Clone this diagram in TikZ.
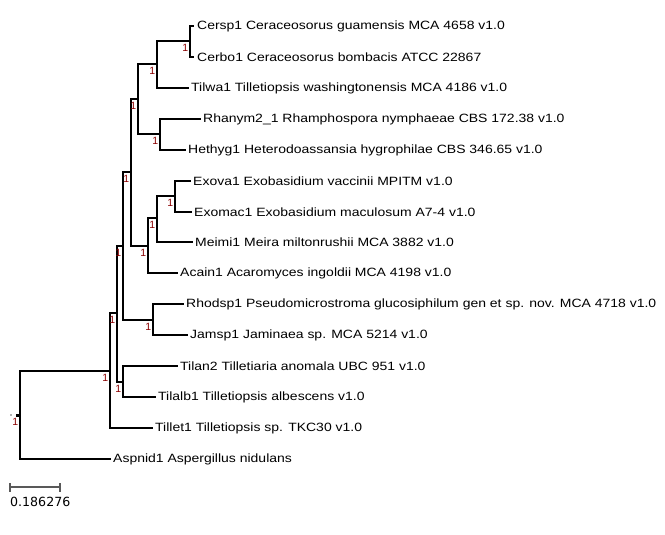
\documentclass[tikz,border=0pt]{standalone}
\usepackage{fontspec}
\setmainfont{Liberation Sans}
\newfontfamily\leaffont[FakeStretch=1.165]{Liberation Sans}
\newfontfamily\scalefont{DejaVu Sans}
\definecolor{bootred}{HTML}{8B0000}
\begin{document}
\begin{tikzpicture}[x=1pt,y=-1pt,
  br/.style={line width=1.5pt,black,line cap=rect},
  bold/.style={line width=2.6pt,black,line cap=rect},
  leaf/.style={anchor=west,inner sep=0pt,font=\leaffont\fontsize{12}{14}\selectfont},
  boot/.style={anchor=north east,inner sep=0pt,text=bootred,font=\fontsize{10.5}{11}\selectfont}]
\useasboundingbox (0,0) rectangle (665,535);
\fill[white] (0,0) rectangle (665,535);
% internal nodes
\coordinate (R) at (20,415);
\coordinate (L) at (110,371);
\coordinate (J) at (117,313);
\coordinate (K) at (123,382);
\coordinate (I) at (123,246);
\coordinate (H) at (153,320);
\coordinate (D) at (131,172);
\coordinate (E) at (148,246);
\coordinate (F) at (157,218);
\coordinate (G) at (175,196);
\coordinate (C) at (138,99);
\coordinate (B) at (160,134);
\coordinate (A) at (157,64);
\coordinate (Ce) at (190,41);
% leaves
\node[leaf] (cersp) at (197,26) {Cersp1 Ceraceosorus guamensis MCA 4658 v1.0};
\node[leaf] (cerbo) at (197,57) {Cerbo1 Ceraceosorus bombacis ATCC 22867};
\node[leaf] (tilwa) at (191,88) {Tilwa1 Tilletiopsis washingtonensis MCA 4186 v1.0};
\node[leaf] (rhany) at (203,119) {Rhanym2\_1 Rhamphospora nymphaeae CBS 172.38 v1.0};
\node[leaf] (hethy) at (188,150) {Hethyg1 Heterodoassansia hygrophilae CBS 346.65 v1.0};
\node[leaf] (exova) at (193,181) {Exova1 Exobasidium vaccinii MPITM v1.0};
\node[leaf] (exoma) at (194,212) {Exomac1 Exobasidium maculosum A7-4 v1.0};
\node[leaf] (meimi) at (195,242) {Meimi1 Meira miltonrushii MCA 3882 v1.0};
\node[leaf] (acain) at (180,273) {Acain1 Acaromyces ingoldii MCA 4198 v1.0};
\node[leaf] (rhods) at (186,304) {Rhodsp1 Pseudomicrostroma glucosiphilum gen et sp. nov. MCA 4718 v1.0};
\node[leaf] (jamsp) at (190,335) {Jamsp1 Jaminaea sp. MCA 5214 v1.0};
\node[leaf] (tilan) at (180,366) {Tilan2 Tilletiaria anomala UBC 951 v1.0};
\node[leaf] (tilal) at (158,397) {Tilalb1 Tilletiopsis albescens v1.0};
\node[leaf] (tille) at (155,428) {Tillet1 Tilletiopsis sp. TKC30 v1.0};
\node[leaf] (aspni) at (113,459) {Aspnid1 Aspergillus nidulans};
% branches
\draw[br] (R) |- (L);
\draw[br] (R) |- ([xshift=-3pt]aspni.west);
\draw[br] (L) |- (J);
\draw[br] (L) |- ([xshift=-3pt]tille.west);
\draw[br] (J) |- (I);
\draw[bold] (J) |- (K);
\draw[br] (K) |- ([xshift=-3pt]tilan.west);
\draw[br] (K) |- ([xshift=-3pt]tilal.west);
\draw[br] (I) |- (D);
\draw[bold] (I) |- (H);
\draw[br] (H) |- ([xshift=-3pt]rhods.west);
\draw[br] (H) |- ([xshift=-3pt]jamsp.west);
\draw[br] (D) |- (C);
\draw[bold] (D) |- (E);
\draw[br] (E) |- (F);
\draw[br] (E) |- ([xshift=-3pt]acain.west);
\draw[bold] (F) |- (G);
\draw[br] (F) |- ([xshift=-3pt]meimi.west);
\draw[br] (G) |- ([xshift=-3pt]exova.west);
\draw[br] (G) |- ([xshift=-3pt]exoma.west);
\draw[br] (C) |- (A);
\draw[bold] (C) |- (B);
\draw[br] (B) |- ([xshift=-3pt]rhany.west);
\draw[br] (B) |- ([xshift=-3pt]hethy.west);
\draw[bold] (A) |- (Ce);
\draw[br] (A) |- ([xshift=-3pt]tilwa.west);
\draw[bold] (Ce) |- ([xshift=-4pt]cersp.west);
\draw[bold] (Ce) |- ([xshift=-4pt]cerbo.west);
% support values
\foreach \n in {R,L,J,K,I,H,D,E,F,G,C,B,A,Ce}
  \node[boot] (b\n) at ([shift={(-1.5,3)}]\n) {1};
% root marker
\fill[black] ([shift={(-4.5,-1.5)}]R) rectangle ([shift={(-1.5,1.5)}]R);
\fill[gray!60] ([shift={(-10,-1)}]R) rectangle ([shift={(-8,1)}]R);
% scale bar
\coordinate (s1) at (10,487);
\coordinate (s2) at (60,487);
\draw[gray!70!black,line width=1.2pt] (s1) -- (s2);
\draw[gray!70!black,line width=1.2pt] ([yshift=-4.5pt]s1) -- ([yshift=4.5pt]s1);
\draw[gray!70!black,line width=1.2pt] ([yshift=-4.5pt]s2) -- ([yshift=4.5pt]s2);
\node[anchor=north west,inner sep=0pt,font=\scalefont\fontsize{12.6}{14}\selectfont] (sl) at (10,497) {0.186276};
\end{tikzpicture}
\end{document}
